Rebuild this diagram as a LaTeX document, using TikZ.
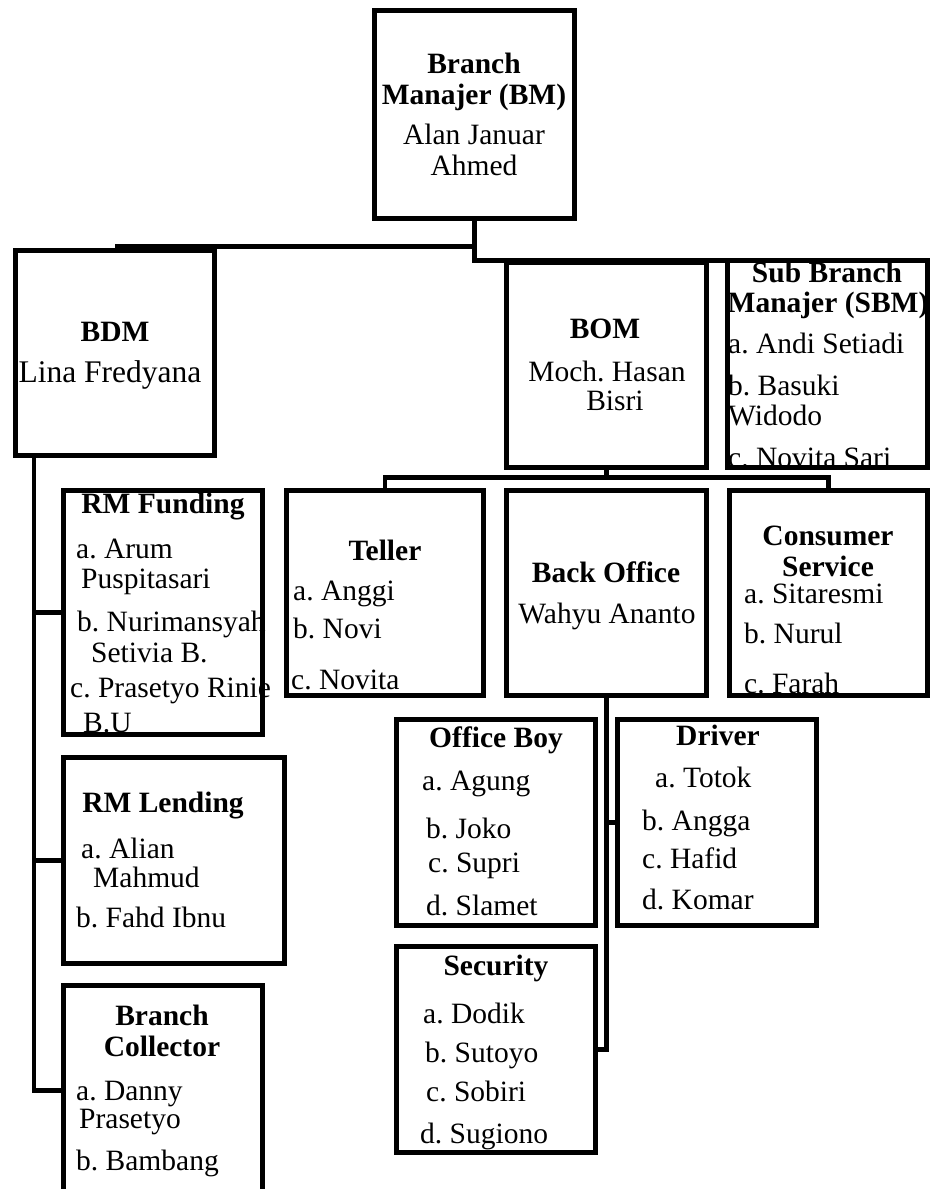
\documentclass[tikz,border=0pt]{standalone}
\usepackage{fontspec}
\setmainfont{Liberation Serif}
\usetikzlibrary{fit}
\frenchspacing
\begin{document}
\begin{tikzpicture}[x=1pt,y=-1pt,
  box/.style={draw, line width=5pt, inner sep=0pt, outer sep=0pt, rectangle},
  conn/.style={line width=4.5pt},
  tl/.style={inner sep=0pt, anchor=base west, font=\fontsize{29.5}{32}\selectfont\frenchspacing},
  tc/.style={inner sep=0pt, anchor=base, font=\fontsize{29.5}{32}\selectfont\frenchspacing},
  hb/.style={inner sep=0pt, anchor=base, font=\fontsize{29.5}{32}\selectfont\bfseries\frenchspacing}]
\clip (0,0) rectangle (932,1189);
% ---- texts ----
\node[hb] (t1) at (474,73) {Branch};
\node[hb] (t2) at (474,104) {Manajer (BM)};
\node[tc] (t3) at (474,144) {Alan Januar};
\node[tc] (t4) at (474,175) {Ahmed};
\node[hb] (t5) at (115,341) {BDM};
\node[tc,font=\fontsize{31.5}{34}\selectfont] (t6) at (110,382) {Lina Fredyana};
\node[hb] (t7) at (605,338) {BOM};
\node[tc] (t8) at (607,381) {Moch. Hasan};
\node[tc] (t9) at (615,410) {Bisri};
\node[hb] (t10) at (827,282) {Sub Branch};
\node[hb] (t11) at (828,312) {Manajer (SBM)};
\node[tl] (t12) at (728,353) {a. Andi Setiadi};
\node[tl] (t13) at (728,395) {b. Basuki};
\node[tl] (t14) at (728,425) {Widodo};
\node[tl] (t15) at (728,467) {c. Novita Sari};
\node[hb] (t16) at (163,513) {RM Funding};
\node[tl] (t17) at (76,558) {a. Arum};
\node[tl] (t18) at (81,588) {Puspitasari};
\node[tl] (t19) at (77,631) {b. Nurimansyah};
\node[tl] (t20) at (91,662) {Setivia B.};
\node[tl] (t21) at (70,697) {c. Prasetyo Rinie};
\node[tl] (t22) at (83,732) {B.U};
\node[hb] (t23) at (385,560) {Teller};
\node[tl] (t24) at (293,600) {a. Anggi};
\node[tl] (t25) at (293,638) {b. Novi};
\node[tl] (t26) at (291,689) {c. Novita};
\node[hb] (t27) at (606,582) {Back Office};
\node[tc] (t28) at (607,623) {Wahyu Ananto};
\node[hb] (t29) at (828,545) {Consumer};
\node[hb] (t30) at (828,576) {Service};
\node[tl] (t31) at (744,603) {a. Sitaresmi};
\node[tl] (t32) at (744,643) {b. Nurul};
\node[tl] (t33) at (744,693) {c. Farah};
\node[hb] (t34) at (496,747) {Office Boy};
\node[tl] (t35) at (422,790) {a. Agung};
\node[tl] (t36) at (426,838) {b. Joko};
\node[tl] (t37) at (428,872) {c. Supri};
\node[tl] (t38) at (426,915) {d. Slamet};
\node[hb] (t39) at (718,745) {Driver};
\node[tl] (t40) at (655,787) {a. Totok};
\node[tl] (t41) at (642,830) {b. Angga};
\node[tl] (t42) at (642,868) {c. Hafid};
\node[tl] (t43) at (642,909) {d. Komar};
\node[hb] (t44) at (496,975) {Security};
\node[tl] (t45) at (423,1023) {a. Dodik};
\node[tl] (t46) at (425,1062) {b. Sutoyo};
\node[tl] (t47) at (426,1101) {c. Sobiri};
\node[tl] (t48) at (420,1143) {d. Sugiono};
\node[hb] (t49) at (163,812) {RM Lending};
\node[tl] (t50) at (81,858) {a. Alian};
\node[tl] (t51) at (93,887) {Mahmud};
\node[tl] (t52) at (76,927) {b. Fahd Ibnu};
\node[hb] (t53) at (162,1025) {Branch};
\node[hb] (t54) at (162,1056) {Collector};
\node[tl] (t55) at (76,1100) {a. Danny};
\node[tl] (t56) at (79,1128) {Prasetyo};
\node[tl] (t57) at (76,1170) {b. Bambang};
% ---- boxes ----
\node[box, fit={(374.5,10.5) (574.5,218.5)}] (bm) {};
\node[box, fit={(15.5,250.5) (214.5,455.5)}] (bdm) {};
\node[box, fit={(506.5,262.5) (706.5,467.5)}] (bom) {};
\node[box, fit={(727.5,260.5) (927.5,467.5)}] (sbm) {};
\node[box, fit={(63.5,490.5) (262.5,734.5)}] (rmf) {};
\node[box, fit={(286.5,490.5) (483.5,695.5)}] (teller) {};
\node[box, fit={(506.5,490.5) (706.5,695.5)}] (bo) {};
\node[box, fit={(729.5,490.5) (927.5,695.5)}] (cs) {};
\node[box, fit={(63.5,757.5) (284.5,963.5)}] (rml) {};
\node[box, fit={(63.5,985.5) (262.5,1195)}] (bc) {};
\node[box, fit={(396.5,719.5) (595.5,925.5)}] (ob) {};
\node[box, fit={(617.5,719.5) (816.5,925.5)}] (drv) {};
\node[box, fit={(396.5,946.5) (595.5,1152.5)}] (sec) {};
% ---- connectors ----
\draw[conn] (bm.south) -- (bm.south |- sbm.north) -- (sbm.north);
\draw[conn] ([yshift=4pt]bdm.north) -- ([yshift=4pt]bdm.north -| bm.south);
\path (bom.south) ++(0,10) coordinate (j2);
\draw[conn] (bom.south) -- (j2);
\draw[conn] (teller.north) |- (j2) -| (cs.north);
\path ([xshift=18.5pt]bdm.south west) coordinate (s1);
\draw[conn] (s1) |- (bc.west);
\draw[conn] (s1 |- rmf.west) -- (rmf.west);
\draw[conn] (s1 |- rml.west) -- (rml.west);
\draw[conn] (bo.south) |- (sec.east);
\draw[conn] (bo.south |- drv.west) -- (drv.west);
\end{tikzpicture}
\end{document}
